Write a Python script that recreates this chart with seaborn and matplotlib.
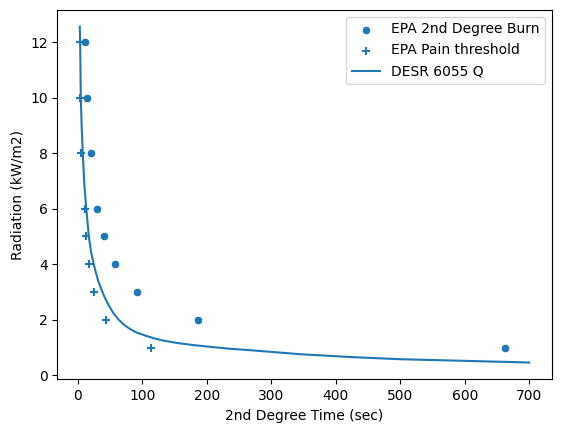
import matplotlib
matplotlib.use("Agg")
import matplotlib.pyplot as plt
import seaborn as sns

# EPA 2nd degree burn (circles)
burn_time = [10.8, 14.2, 20.1, 29.4, 40.2, 57.5, 91, 187, 663]
burn_rad = [12, 10, 8, 6, 5, 4, 3, 2, 1]

# EPA pain threshold (plus markers)
pain_time = [3, 4, 5.5, 10.4, 11.9, 17.6, 25.3, 44, 113]
pain_rad = [12, 10, 8, 6, 5, 4, 3, 2, 1]

# DESR 6055 Q curve
desr_time = [3.0, 3.6, 4.6, 6.0, 7.7, 10.0, 13.0, 17.0, 20.5, 24.7, 27.4,
             32.0, 37.7, 42.5, 47.9, 55.0, 63.4, 70.5, 78.8, 90.0, 104.6,
             117.0, 130.4, 155.0, 181.9, 233.4, 269.5, 344.0, 420.0, 498.8,
             600.0, 700.0]
desr_rad = [12.55, 12.0, 10.0, 8.9, 8.0, 6.9, 6.03, 5.0, 4.45, 4.0, 3.75,
            3.37, 3.03, 2.76, 2.52, 2.24, 2.0, 1.84, 1.70, 1.55, 1.43,
            1.34, 1.26, 1.16, 1.08, 0.96, 0.90, 0.76, 0.66, 0.58, 0.52,
            0.46]

color = "#1f77b4"

fig = plt.figure(figsize=(5.62, 4.32), dpi=100)
ax = fig.add_axes([57.3 / 562, 52.7 / 432, 494.4 / 562, 369.3 / 432])

sns.scatterplot(x=burn_time, y=burn_rad, ax=ax, color=color, marker="o",
                label="EPA 2nd Degree Burn")
sns.scatterplot(x=pain_time, y=pain_rad, ax=ax, color=color, marker="+",
                linewidth=1.5, label="EPA Pain threshold")
sns.lineplot(x=desr_time, y=desr_rad, ax=ax, color=color, linewidth=1.5,
             label="DESR 6055 Q")

ax.set_xlabel("2nd Degree Time (sec)")
ax.set_ylabel("Radiation (kW/m2)")
ax.set_xticks([0, 100, 200, 300, 400, 500, 600, 700])
ax.set_yticks([0, 2, 4, 6, 8, 10, 12])
ax.legend(loc="upper right")

fig.savefig("out.png", dpi=100)
